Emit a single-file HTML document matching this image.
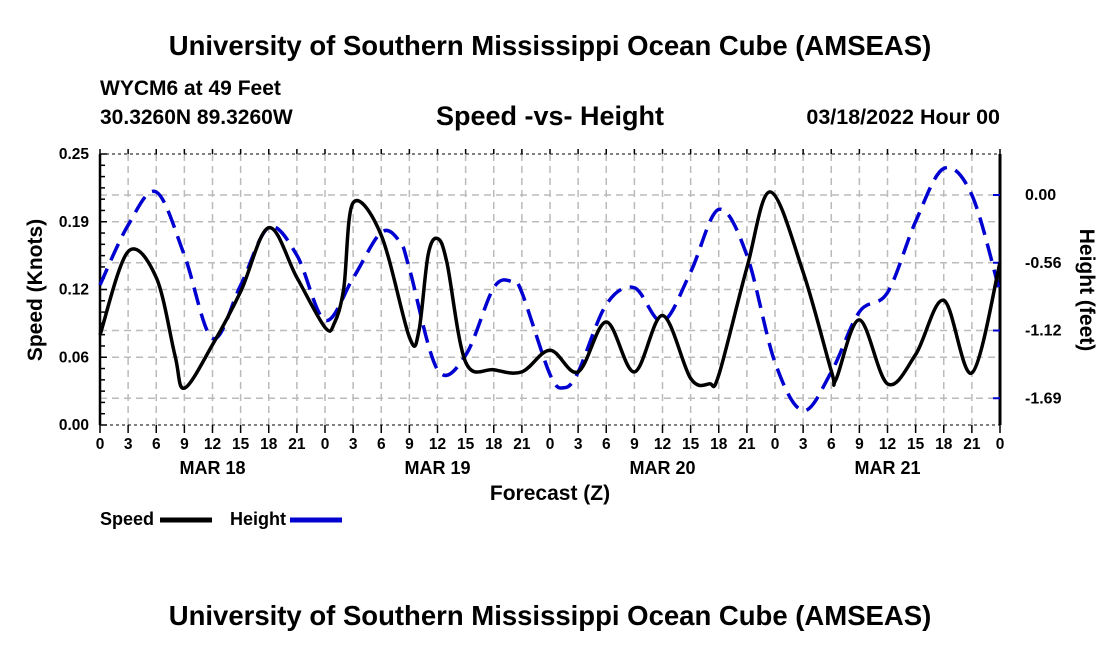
<!DOCTYPE html>
<html><head><meta charset="utf-8"><style>
body{margin:0;background:#fff;}
svg{font-family:"Liberation Sans",sans-serif;font-weight:bold;}
</style></head><body>
<svg id="c" width="1100" height="650" xmlns="http://www.w3.org/2000/svg">
<text x="550" y="55" text-anchor="middle" font-size="27.5">University of Southern Mississippi Ocean Cube (AMSEAS)</text>
<text x="100" y="95" font-size="21">WYCM6 at 49 Feet</text>
<text x="100" y="124" font-size="21">30.3260N  89.3260W</text>
<text x="550" y="125" text-anchor="middle" font-size="27">Speed -vs- Height</text>
<text x="1000" y="124" text-anchor="end" font-size="21.5">03/18/2022 Hour 00</text>
<text transform="translate(42,290) rotate(-90)" text-anchor="middle" font-size="21">Speed (Knots)</text>
<text transform="translate(1080,290) rotate(90)" text-anchor="middle" font-size="21">Height (feet)</text>
<text x="550" y="500" text-anchor="middle" font-size="21">Forecast (Z)</text>
<g>
<text x="100" y="525" font-size="18">Speed</text>
<line x1="160" y1="520" x2="212" y2="520" stroke="#000" stroke-width="5"/>
<text x="230" y="525" font-size="18">Height</text>
<line x1="290" y1="520" x2="342" y2="520" stroke="#0000d0" stroke-width="5"/>
</g>
<text x="550" y="625" text-anchor="middle" font-size="27.5">University of Southern Mississippi Ocean Cube (AMSEAS)</text>
</svg>
<script>
const speedHours=[0,3,6,8,9,12,15,18,21,24,25,26,27,30,33,34,35,36,37,39,42,45,48,51,54,57,60,63,65,66,69,71.5,75,78,78.5,81,84,87,90,93,96];
const speedValues=[0.083,0.160,0.136,0.064,0.034,0.074,0.123,0.182,0.136,0.090,0.094,0.126,0.205,0.175,0.081,0.086,0.157,0.172,0.150,0.058,0.051,0.049,0.069,0.049,0.095,0.049,0.101,0.043,0.038,0.046,0.145,0.215,0.141,0.050,0.042,0.097,0.038,0.065,0.115,0.048,0.150];
const heightHours=[0,3,6,9,12,15,18,21,24,27,30,32,33,36,39,42,44,45,48,49.5,51,54,57,60,63,66,69,72,75,78,81,84,87,90,93,96];
const heightValues=[-0.747,-0.25,0.025,-0.50,-1.19,-0.75,-0.27,-0.50,-1.04,-0.69,-0.31,-0.39,-0.61,-1.45,-1.33,-0.77,-0.72,-0.81,-1.49,-1.60,-1.47,-0.91,-0.77,-1.05,-0.64,-0.12,-0.50,-1.39,-1.79,-1.47,-0.97,-0.81,-0.22,0.22,0.00,-0.81];
const xTickLabels=["0","3","6","9","12","15","18","21"];
const monthLabels=["MAR 18","MAR 19","MAR 20","MAR 21"];
const leftTicks=["0.00","0.06","0.12","0.19","0.25"];
const rightTicks=["0.00","-0.56","-1.12","-1.69"];

const L=100,R=1000,T=154,B=425;
const xs=h=>L+(R-L)*h/96;
const ys=v=>B-(B-T)*v/0.25;
const yh=v=>195-v*67.75/0.5625;
const svg=document.getElementById('c');
const NS='http://www.w3.org/2000/svg';
function mk(t,a){const e=document.createElementNS(NS,t);for(const k in a)e.setAttribute(k,a[k]);svg.appendChild(e);return e;}
for(let h=3;h<96;h+=3){const g=mk('line',{x1:xs(h),x2:xs(h),y1:T,y2:B,stroke:'#bbb','stroke-width':1.5,'stroke-dasharray':'7,5'});

}
for(let i=1;i<4;i++){const g=mk('line',{x1:L,x2:R,y1:ys(i*0.0625),y2:ys(i*0.0625),stroke:'#bbb','stroke-width':1.5,'stroke-dasharray':'7,5'});

}
for(let i=0;i<4;i++){const v=-i*0.5625;const g=mk('line',{x1:L,x2:R,y1:yh(v),y2:yh(v),stroke:'#bbb','stroke-width':1.5,'stroke-dasharray':'7,5'});

}
const ax=mk('rect',{x:L,y:T,width:R-L,height:B-T,fill:'none',stroke:'#000','stroke-width':1,'stroke-dasharray':'3,3'});


const la=mk('line',{x1:L,x2:L,y1:T,y2:B,stroke:'#000','stroke-width':2.5});


const ra=mk('line',{x1:R,x2:R,y1:T,y2:B,stroke:'#000','stroke-width':3});


for(let i=0;i<=24;i++){const y=B-(B-T)*i/24;const t=mk('line',{x1:L,x2:L+(i%6==0?7:5),y1:y,y2:y,stroke:'#000','stroke-width':1.5});

}
leftTicks.forEach((s,i)=>{const t=mk('text',{x:L-11,y:ys(i*0.0625)+5,'text-anchor':'end','font-size':15.5});t.textContent=s;

});
rightTicks.forEach((s,i)=>{const y=yh(-i*0.5625);const tk=mk('line',{x1:R-7,x2:R,y1:y,y2:y,stroke:'#0000d0','stroke-width':2});


const t=mk('text',{x:R+25,y:y+5,'font-size':16});t.textContent=s;

});
for(let h=0;h<=96;h+=3){const k=mk('line',{x1:xs(h),x2:xs(h),y1:B,y2:B+8,stroke:'#000','stroke-width':1.5});


const k2=mk('line',{x1:xs(h),x2:xs(h),y1:T,y2:T-5,stroke:'#000','stroke-width':1.5});


const t=mk('text',{x:xs(h),y:B+24,'text-anchor':'middle','font-size':15.5});t.textContent=h==96?'0':xTickLabels[(h/3)%8];

}
monthLabels.forEach((s,i)=>{const t=mk('text',{x:xs(12+24*i),y:B+49,'text-anchor':'middle','font-size':18});t.textContent=s;

});
function path(hs,vs,yf){const p=hs.map((h,i)=>[xs(h),yf(vs[i])]);let d='M'+p[0][0]+','+p[0][1];
for(let i=0;i<p.length-1;i++){const p0=p[Math.max(0,i-1)],p1=p[i],p2=p[i+1],p3=p[Math.min(p.length-1,i+2)];
d+=' C'+(p1[0]+(p2[0]-p0[0])/6)+','+(p1[1]+(p2[1]-p0[1])/6)+' '+(p2[0]-(p3[0]-p1[0])/6)+','+(p2[1]-(p3[1]-p1[1])/6)+' '+p2[0]+','+p2[1];}
return d;}
const hl=mk('path',{d:path(heightHours,heightValues,yh),fill:'none',stroke:'#0000d0','stroke-width':3.5,'stroke-dasharray':'18,9'});


const sl=mk('path',{d:path(speedHours,speedValues,ys),fill:'none',stroke:'#000','stroke-width':3.5});


</script>
</body></html>
